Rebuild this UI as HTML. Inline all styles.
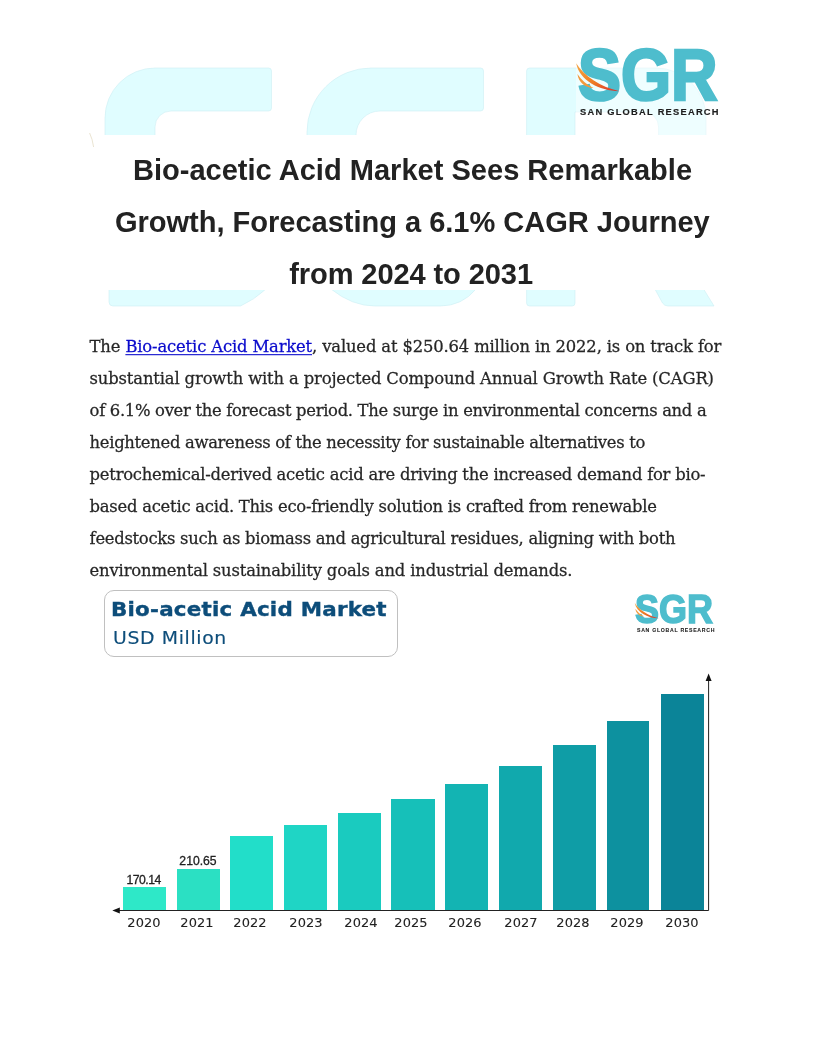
<!DOCTYPE html>
<html lang="en">
<head>
<meta charset="utf-8">
<title>Bio-acetic Acid Market</title>
<style>
html,body{margin:0;padding:0;background:#fff;}
body{width:816px;height:1056px;position:relative;overflow:hidden;font-family:"Liberation Sans",sans-serif;}
.titlebox{position:absolute;left:96px;top:134.5px;width:690px;height:155px;background:#fff;}
.tl{position:absolute;width:816px;text-align:center;font-family:"Liberation Sans",sans-serif;font-weight:bold;font-size:29.05px;line-height:34px;color:#222;white-space:nowrap;}
.p{position:absolute;font-family:"DejaVu Serif", serif;font-size:16.4px;line-height:24px;color:#262626;white-space:nowrap;-webkit-text-stroke:0.25px currentColor;transform-origin:0 17px;transform:scaleY(1.07);}
.p a{color:#0a0acc;text-decoration:underline;text-decoration-thickness:1px;text-underline-offset:2px;}
.bar{position:absolute;}
.yl{position:absolute;font-family:"DejaVu Sans",sans-serif;font-size:12px;line-height:14px;color:#222;text-align:center;width:80px;white-space:nowrap;letter-spacing:0.1px;transform:scaleX(1.08);-webkit-text-stroke:0.1px #222;}
.vl{position:absolute;font-family:"Liberation Sans",sans-serif;font-size:12.2px;line-height:14px;color:#222;text-align:center;width:80px;white-space:nowrap;letter-spacing:0px;-webkit-text-stroke:0.3px #222;}
.lg{position:absolute;white-space:nowrap;font-family:"Liberation Sans",sans-serif;font-weight:bold;transform-origin:0 0;line-height:1;}
.ct{position:absolute;white-space:nowrap;font-family:"DejaVu Sans",sans-serif;color:#0d4d7a;transform-origin:0 0;line-height:1;}
</style>
</head>
<body>
<!-- faint background watermark (decorative shapes) -->
<svg style="position:absolute;left:0;top:0" width="816" height="320" viewBox="0 0 816 320">
<g fill="#e0fdff" stroke="#cdeef3" stroke-width="0.6">
<path d="M105,140 L105,118 A50,50 0 0 1 155,68 L268.5,68 Q271.5,68 271.5,71 L271.5,108 Q271.5,111 268.5,111 L171,111 A16,16 0 0 0 155,127 L155,140 Z"/>
<path d="M109,280 L109,302 Q109,306 113,306 L240.5,306 Q254,300 266,289 L266,280 Z"/>
<path d="M307,140 L307,132 A64,64 0 0 1 371,68 L480.5,68 Q483.5,68 483.5,71 L483.5,108 Q483.5,111 480.5,111 L380,111 A24,24 0 0 0 356,135 L356,140 Z"/>
<path d="M331,280 L331,289 Q352,306 375,306 L440,306 Q462,306 476,289 L476,280 Z"/>
<path d="M526.6,140 L526.6,71 Q526.6,68 529.6,68 L656,68 A50,50 0 0 1 706,118 L706,140 L658.6,140 L658.6,127 A15,15 0 0 0 643.6,112 L575,112 L575,140 Z"/>
<path d="M526.6,280 L526.6,303 Q526.6,306 529.6,306 L572,306 Q575,306 575,303 L575,280 Z"/>
<path d="M650,280 L662.5,303 Q664.5,306 668,306 L714,306 L698,280 Z"/>
</g>
<path d="M89.6,133 Q92.5,139 93.6,147" fill="none" stroke="#d9cfae" stroke-width="0.8" opacity="0.7"/>
</svg>
<div class="titlebox"></div>
<div class="tl" style="left:4.5px;top:153px;letter-spacing:0px">Bio-acetic Acid Market Sees Remarkable</div>
<div class="tl" style="left:4.3px;top:205px;letter-spacing:-0.02px">Growth, Forecasting a 6.1% CAGR Journey</div>
<div class="tl" style="left:3.1px;top:257px;letter-spacing:-0.1px">from 2024 to 2031</div>
<div style="position:absolute;left:575.5px;top:36px;width:148px;height:99px;background:rgba(255,255,255,0.45)"></div>
<div class="lg" style="left:577.80px;top:39.60px;font-size:71.40px;color:#4ebdcd;-webkit-text-stroke:2.60px #4ebdcd;transform:scaleX(0.902)">SGR</div>
<div class="lg" style="left:580.00px;top:107.20px;font-size:18.60px;color:#1c1c1c;letter-spacing:2.50px;-webkit-text-stroke:0.30px #1c1c1c;transform:scale(0.5,0.5)">SAN GLOBAL RESEARCH</div>
<svg style="position:absolute;left:575.00px;top:62.30px" width="48.00" height="32.00" viewBox="0 0 48 32"><defs><linearGradient id="sw100" x1="0" y1="0" x2="1" y2="1"><stop offset="0" stop-color="#f5a742"/><stop offset="0.55" stop-color="#ee7a24"/><stop offset="0.85" stop-color="#e0452a"/><stop offset="1" stop-color="#cf2a2a"/></linearGradient></defs><path d="M1.2,1.2 C4.5,18.5 24,28.5 44.5,29.2 C26,25 9,14 1.2,1.2 Z" fill="url(#sw100)"/><path d="M2.4,12 C3.6,20.5 10,25.6 18.5,26 C11.5,22.6 6.4,18 2.4,12 Z" fill="#f29a3c"/></svg>
<div class="p" style="left:89.6px;top:335.40px;letter-spacing:-0.157px">The <a>Bio-acetic Acid Market</a>, valued at $250.64 million in 2022, is on track for</div>
<div class="p" style="left:89.6px;top:367.34px;letter-spacing:-0.151px">substantial growth with a projected Compound Annual Growth Rate (CAGR)</div>
<div class="p" style="left:89.6px;top:399.28px;letter-spacing:-0.311px">of 6.1% over the forecast period. The surge in environmental concerns and a</div>
<div class="p" style="left:89.6px;top:431.22px;letter-spacing:-0.312px">heightened awareness of the necessity for sustainable alternatives to</div>
<div class="p" style="left:89.6px;top:463.16px;letter-spacing:-0.244px">petrochemical-derived acetic acid are driving the increased demand for bio-</div>
<div class="p" style="left:89.6px;top:495.10px;letter-spacing:-0.252px">based acetic acid. This eco-friendly solution is crafted from renewable</div>
<div class="p" style="left:89.6px;top:527.04px;letter-spacing:-0.284px">feedstocks such as biomass and agricultural residues, aligning with both</div>
<div class="p" style="left:89.6px;top:558.98px;letter-spacing:-0.17px">environmental sustainability goals and industrial demands.</div>
<div style="position:absolute;left:104px;top:589.5px;width:294px;height:67px;box-sizing:border-box;border:1px solid #c0c0c0;border-radius:10px;background:#fff"></div>
<div class="ct" style="left:110.9px;top:599.0px;font-weight:bold;font-size:20.2px;letter-spacing:0.2px;-webkit-text-stroke:0.4px #0d4d7a;transform:scaleX(1.062)">Bio-acetic Acid Market</div>
<div class="ct" style="left:112.6px;top:629.6px;font-size:17.4px;letter-spacing:0.6px;-webkit-text-stroke:0.15px #0d4d7a;transform:scaleX(1.082)">USD Million</div>
<div class="lg" style="left:635.37px;top:589.54px;font-size:39.92px;color:#4ebdcd;-webkit-text-stroke:1.45px #4ebdcd;transform:scaleX(0.902)">SGR</div>
<div class="lg" style="left:636.60px;top:628.13px;font-size:10.40px;color:#1c1c1c;letter-spacing:1.40px;-webkit-text-stroke:0.17px #1c1c1c;transform:scale(0.5,0.5)">SAN GLOBAL RESEARCH</div>
<svg style="position:absolute;left:633.80px;top:602.23px" width="26.84" height="17.89" viewBox="0 0 48 32"><defs><linearGradient id="sw55" x1="0" y1="0" x2="1" y2="1"><stop offset="0" stop-color="#f5a742"/><stop offset="0.55" stop-color="#ee7a24"/><stop offset="0.85" stop-color="#e0452a"/><stop offset="1" stop-color="#cf2a2a"/></linearGradient></defs><path d="M1.2,1.2 C4.5,18.5 24,28.5 44.5,29.2 C26,25 9,14 1.2,1.2 Z" fill="url(#sw55)"/><path d="M2.4,12 C3.6,20.5 10,25.6 18.5,26 C11.5,22.6 6.4,18 2.4,12 Z" fill="#f29a3c"/></svg>
<div class="bar" style="left:122.8px;top:887.3px;width:42.9px;height:22.7px;background:#2ee8c8"></div>
<div class="yl" style="left:103.5px;top:915.5px">2020</div>
<div class="vl" style="left:103.6px;top:872.8px;letter-spacing:-0.5px">170.14</div>
<div class="bar" style="left:176.7px;top:868.9px;width:42.9px;height:41.1px;background:#2be0c3"></div>
<div class="yl" style="left:156.5px;top:915.5px">2021</div>
<div class="vl" style="left:158.0px;top:854.4px;letter-spacing:0px">210.65</div>
<div class="bar" style="left:230.4px;top:835.8px;width:43.0px;height:74.2px;background:#22dec9"></div>
<div class="yl" style="left:210.3px;top:915.5px">2022</div>
<div class="bar" style="left:284.3px;top:825.4px;width:43.1px;height:84.6px;background:#1fd5c5"></div>
<div class="yl" style="left:265.6px;top:915.5px">2023</div>
<div class="bar" style="left:337.9px;top:813.0px;width:43.0px;height:97.0px;background:#1acbbf"></div>
<div class="yl" style="left:320.7px;top:915.5px">2024</div>
<div class="bar" style="left:391.2px;top:799.4px;width:43.4px;height:110.6px;background:#16c0b9"></div>
<div class="yl" style="left:370.7px;top:915.5px">2025</div>
<div class="bar" style="left:445.3px;top:783.5px;width:43.2px;height:126.5px;background:#13b4b3"></div>
<div class="yl" style="left:425.0px;top:915.5px">2026</div>
<div class="bar" style="left:499.1px;top:765.9px;width:42.8px;height:144.1px;background:#11a9ad"></div>
<div class="yl" style="left:480.8px;top:915.5px">2027</div>
<div class="bar" style="left:552.9px;top:745.1px;width:43.2px;height:164.9px;background:#0f9da6"></div>
<div class="yl" style="left:533.3px;top:915.5px">2028</div>
<div class="bar" style="left:606.7px;top:721.3px;width:42.8px;height:188.7px;background:#0d919f"></div>
<div class="yl" style="left:587.3px;top:915.5px">2029</div>
<div class="bar" style="left:660.5px;top:694.4px;width:43.3px;height:215.6px;background:#0b8498"></div>
<div class="yl" style="left:642.3px;top:915.5px">2030</div>
<svg style="position:absolute;left:100px;top:665px" width="620" height="255" viewBox="100 665 620 255">
<path d="M117,910.5 L708.6,910.5 L708.6,679" fill="none" stroke="#222" stroke-width="1"/>
<path d="M112.3,910.5 L119.8,907.6 L119.8,913.4 Z" fill="#111"/>
<path d="M708.6,673.5 L705.6,681 L711.6,681 Z" fill="#111"/>
</svg>
</body>
</html>
